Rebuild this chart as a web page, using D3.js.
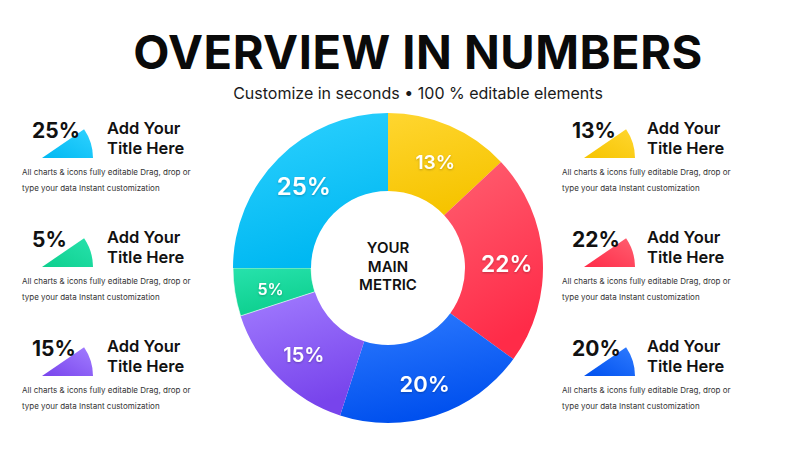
<!DOCTYPE html>
<html><head><meta charset="utf-8">
<script src="https://cdn.jsdelivr.net/npm/d3@7/dist/d3.min.js"></script>
<style>
html,body{margin:0;padding:0;background:#fff;}
svg{display:block;font-family:Inter, "Noto Sans", sans-serif;}
</style></head>
<body>
<svg id="chart" width="800" height="450"></svg>
<script>
// ---- data ----
const categories = ["A","B","C","D","E","F"];
const values = [13, 22, 20, 15, 5, 25];
const sliceLabels = ["13%","22%","20%","15%","5%","25%"];
const leftItems = ["25%","5%","15%"];
const rightItems = ["13%","22%","20%"];
const leftColors = ["cyan","green","purple"];
const rightColors = ["yellow","red","blue"];
const itemTitle = ["Add Your","Title Here"];
const itemDesc = ["All charts & icons fully editable Drag, drop or","type your data Instant customization"];
const centerText = ["YOUR","MAIN","METRIC"];
const titleText = "OVERVIEW IN NUMBERS";
const subtitleText = "Customize in seconds \u2022 100 % editable elements";

// ---- styles ----
const palette = {
  yellow:["#FFD630","#F6C400"],
  red:["#FF5F70","#FF2B48"],
  blue:["#2E7BFF","#0050EE"],
  purple:["#A27DFF","#7844EC"],
  green:["#27E2AC","#0DCF8E"],
  cyan:["#2FD2FF","#00B8F2"]
};
const sliceColorKeys = ["yellow","red","blue","purple","green","cyan"];

const svg = d3.select("#chart");
const defs = svg.append("defs");
Object.entries(palette).forEach(([k,c])=>{
  const g = defs.append("linearGradient").attr("id","g-"+k)
    .attr("x1","0").attr("y1","0").attr("x2","0.3").attr("y2","1");
  g.append("stop").attr("offset","0%").attr("stop-color",c[0]);
  g.append("stop").attr("offset","100%").attr("stop-color",c[1]);
  const h = defs.append("linearGradient").attr("id","h-"+k)
    .attr("x1","0").attr("y1","1").attr("x2","1").attr("y2","0");
  h.append("stop").attr("offset","0%").attr("stop-color",c[1]);
  h.append("stop").attr("offset","100%").attr("stop-color",c[0]);
});
const sh = defs.append("filter").attr("id","tshadow").attr("x","-20%").attr("y","-20%").attr("width","140%").attr("height","140%");
sh.append("feDropShadow").attr("dx",0).attr("dy",1).attr("stdDeviation",1).attr("flood-color","#000").attr("flood-opacity",0.25);

// title
svg.append("text").attr("x",418).attr("y",69).attr("text-anchor","middle")
  .attr("font-size",47).attr("font-weight",700).attr("fill","#0a0a0a")
  .attr("letter-spacing",0.5).text(titleText);
svg.append("text").attr("x",418).attr("y",99).attr("text-anchor","middle")
  .attr("font-size",16).attr("font-weight",400).attr("fill","#1a1a1a").text(subtitleText);

// donut
const cx = 388, cy = 268, R = 155, r0 = 77;
const pie = d3.pie().sort(null).value(d=>d)(values);
const arc = d3.arc().innerRadius(r0).outerRadius(R);
const labelArc = d3.arc().innerRadius(119).outerRadius(119);
const fontScale = d3.scaleLinear().domain([5,25]).range([16,24]);
const g = svg.append("g").attr("transform",`translate(${cx},${cy})`);
g.selectAll("path.slice").data(pie).join("path").attr("class","slice")
  .attr("d",arc).attr("fill",(d,i)=>`url(#g-${sliceColorKeys[i]})`)
  .attr("stroke",(d,i)=>i===4?"#fff":"none").attr("stroke-width",0.6);
g.selectAll("text.lbl").data(pie).join("text").attr("class","lbl")
  .attr("transform",d=>{const c=labelArc.centroid(d);return `translate(${c[0]},${c[1]+3})`;})
  .attr("text-anchor","middle").attr("dy","0.36em")
  .attr("font-size",d=>fontScale(d.value)).attr("font-weight",600)
  .attr("fill","#fff").attr("filter","url(#tshadow)")
  .text((d,i)=>sliceLabels[i]);
// center text
g.selectAll("text.ct").data(centerText).join("text").attr("class","ct")
  .attr("x",0).attr("y",(d,i)=>-20+i*18.5+5).attr("text-anchor","middle")
  .attr("font-size",15).attr("font-weight",600).attr("fill","#111").text(d=>d);

// side items
const wedge = d3.arc().innerRadius(0).outerRadius(51).startAngle(Math.PI/2-0.6).endAngle(Math.PI/2);
function drawItem(x0, y0, pct, colorKey, pctX, titleX, descX){
  const it = svg.append("g");
  it.append("path").attr("d",wedge()).attr("transform",`translate(${x0},${y0})`)
    .attr("fill",`url(#h-${colorKey})`);
  it.append("text").attr("x",pctX).attr("y",y0-20).attr("font-size",21).attr("font-weight",700)
    .attr("fill","#111").text(pct);
  it.selectAll("text.tt").data(itemTitle).join("text").attr("class","tt")
    .attr("x",titleX).attr("y",(d,i)=>y0-24+i*19.5).attr("font-size",16.5).attr("font-weight",600)
    .attr("fill","#111").text(d=>d);
  it.selectAll("text.dd").data(itemDesc).join("text").attr("class","dd")
    .attr("x",descX).attr("y",(d,i)=>y0+17+i*15.5).attr("font-size",8).attr("font-weight",400)
    .attr("fill","#333").text(d=>d);
}
const rowY = d3.scaleLinear().domain([0,1]).range([158,267]);
leftItems.forEach((p,i)=>drawItem(42, rowY(i), p, leftColors[i], 32, 107, 22));
rightItems.forEach((p,i)=>drawItem(584, rowY(i), p, rightColors[i], 572, 647, 562));
</script>
</body></html>
